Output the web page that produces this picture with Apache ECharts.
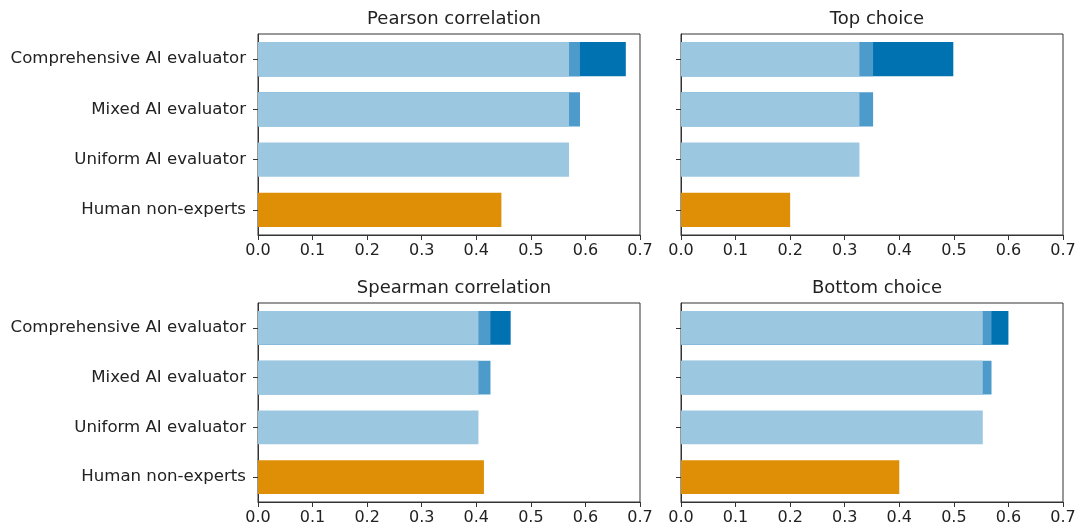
<!DOCTYPE html>
<html>
<head>
<meta charset="utf-8">
<script src="https://cdn.jsdelivr.net/npm/echarts@6/dist/echarts.min.js"></script>
<style>
html,body{margin:0;padding:0;background:#fff;}
#chart{width:1083px;height:532px;}
</style>
</head>
<body>
<div id="chart"></div>
<script>
// ---- data ----
const categories = ["Comprehensive AI evaluator", "Mixed AI evaluator", "Uniform AI evaluator", "Human non-experts"];
const metrics = ["Pearson correlation", "Top choice", "Spearman correlation", "Bottom choice"];
const uniformAI = [0.570, 0.327, 0.404, 0.553];
const mixedAI = [0.590, 0.352, 0.426, 0.569];
const comprehensiveAI = [0.674, 0.499, 0.463, 0.600];
const humanNonExperts = [0.446, 0.200, 0.414, 0.400];
const xTicks = [0.0, 0.1, 0.2, 0.3, 0.4, 0.5, 0.6, 0.7];

// ---- layout / style ----
const FONT = "DejaVu Sans";
const panels = [
  {left: 258, top: 34, width: 382, height: 201, labels: true},
  {left: 681, top: 34, width: 382, height: 201, labels: false},
  {left: 258, top: 303, width: 382, height: 199, labels: true},
  {left: 681, top: 303, width: 382, height: 199, labels: false}
];
const C_LIGHT = "#9CC7E0", C_MID = "#4C9BCA", C_DARK = "#0072B2", C_HUMAN = "#DE8F05";
const AX = "#333333";

const grid = [], xAxis = [], yAxis = [], series = [], title = [];
panels.forEach((p, i) => {
  grid.push({left: p.left, top: p.top, width: p.width, height: p.height, show: true,
    borderColor: AX, borderWidth: 1, backgroundColor: "transparent", containLabel: false});
  title.push({text: metrics[i], left: p.left + p.width / 2, top: p.top - 29, textAlign: "center",
    textStyle: {fontFamily: FONT, fontSize: 18, fontWeight: "normal", color: "#222"}});
  xAxis.push({type: "value", gridIndex: i, min: xTicks[0], max: xTicks[xTicks.length - 1], interval: 0.1,
    axisLine: {show: true, lineStyle: {color: AX, width: 1}},
    axisTick: {show: true, length: 5, lineStyle: {color: AX}},
    splitLine: {show: false},
    axisLabel: {show: true, fontFamily: FONT, fontSize: 16, color: "#222", margin: 8,
      formatter: v => v.toFixed(1)}});
  yAxis.push({type: "category", gridIndex: i, data: categories, inverse: true,
    axisLine: {show: true, lineStyle: {color: AX, width: 1}},
    axisTick: {show: true, length: 5, alignWithLabel: true, lineStyle: {color: AX}},
    splitLine: {show: false},
    axisLabel: {show: p.labels, fontFamily: FONT, fontSize: 16.6, color: "#222", margin: 12}});
  const common = {type: "bar", xAxisIndex: i, yAxisIndex: i, barWidth: "68%", barGap: "-100%", silent: true};
  series.push(Object.assign({}, common, {name: "comprehensive", itemStyle: {color: C_DARK},
    data: [comprehensiveAI[i], "-", "-", "-"]}));
  series.push(Object.assign({}, common, {name: "mixed", itemStyle: {color: C_MID},
    data: [mixedAI[i], mixedAI[i], "-", "-"]}));
  series.push(Object.assign({}, common, {name: "uniform", itemStyle: {color: C_LIGHT},
    data: [uniformAI[i], uniformAI[i], uniformAI[i], "-"]}));
  series.push(Object.assign({}, common, {name: "human", itemStyle: {color: C_HUMAN},
    data: ["-", "-", "-", humanNonExperts[i]]}));
});

const chart = echarts.init(document.getElementById("chart"), null, {renderer: "canvas"});
chart.setOption({animation: false, backgroundColor: "#fff", title, grid, xAxis, yAxis, series});
</script>
</body>
</html>
